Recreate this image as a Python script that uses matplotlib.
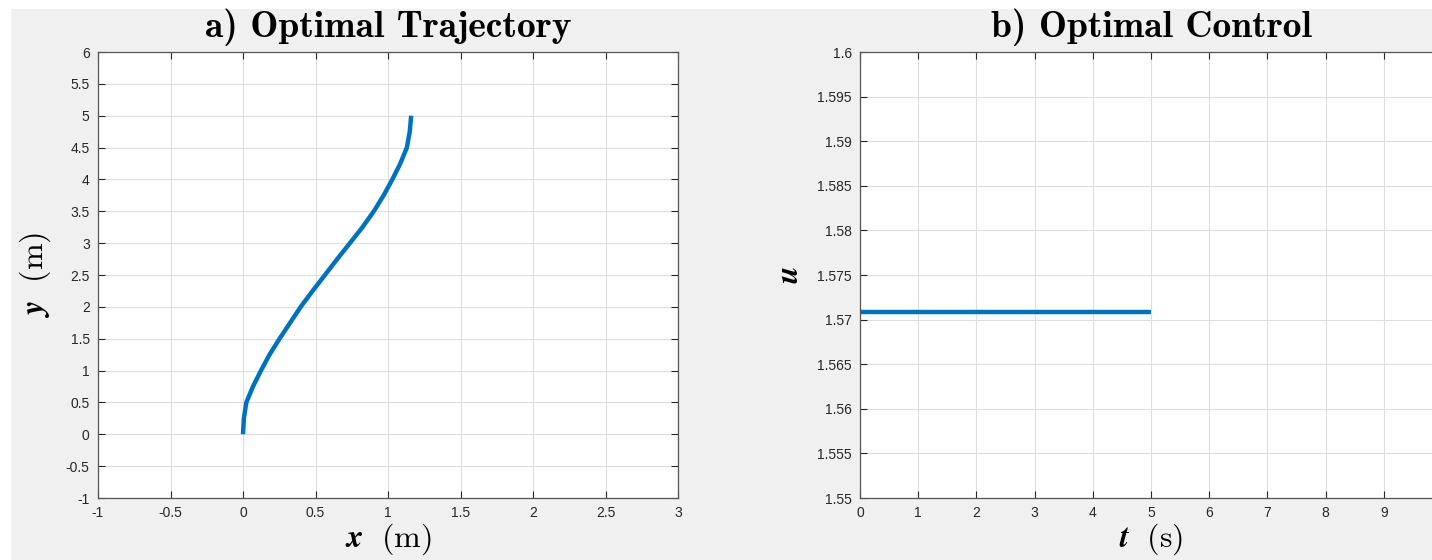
import matplotlib
matplotlib.use("Agg")
import matplotlib.pyplot as plt
import numpy as np
from matplotlib.patches import Rectangle
from matplotlib.ticker import FuncFormatter

# trajectory samples (x, y) in metres
traj_x = [0.0, 0.006, 0.023, 0.069, 0.124, 0.183, 0.252, 0.325, 0.398, 0.48, 0.565,
          0.65, 0.737, 0.824, 0.902, 0.97, 1.03, 1.085, 1.13, 1.15, 1.16]
traj_y = [0.0, 0.25, 0.5, 0.75, 1.0, 1.25, 1.5, 1.75, 2.0, 2.25, 2.5,
          2.75, 3.0, 3.25, 3.5, 3.75, 4.0, 4.25, 4.5, 4.75, 5.0]

# control input over time
ctrl_t = [0.0, 1.0, 2.0, 3.0, 4.0, 5.0]
ctrl_u = [1.5708, 1.5708, 1.5708, 1.5708, 1.5708, 1.5708]

plt.rcParams["mathtext.fontset"] = "cm"
plt.rcParams["font.family"] = "Liberation Sans"

W, H = 1432, 560
BLUE = "#0072BD"
DARK = "#262626"
fig = plt.figure(figsize=(W / 100, H / 100), dpi=100, facecolor="white")
fig.patches.append(Rectangle((11 / W, 0), 1, 1 - 9 / H, transform=fig.transFigure,
                             facecolor="#f0f0f0", edgecolor="none", zorder=-10))

fmt = FuncFormatter(lambda v, _: f"{v:g}")
TITLE = dict(fontsize=27, fontfamily="cmb10", pad=11)
LABEL = dict(fontsize=23)


def style(ax):
    ax.set_facecolor("white")
    ax.grid(True, color="#dedede", lw=0.8)
    ax.set_axisbelow(True)
    ax.tick_params(direction="in", length=5, width=0.8, top=True, right=True,
                   labelsize=10, colors=DARK, labelcolor=DARK, pad=6)
    for s in ax.spines.values():
        s.set_color("#555555")
        s.set_linewidth(0.9)
    ax.xaxis.set_major_formatter(fmt)
    ax.yaxis.set_major_formatter(fmt)


# a) trajectory
ax1 = fig.add_axes([98 / W, 62 / H, 580 / W, 446 / H])
ax1.plot(traj_x, traj_y, color=BLUE, lw=3.2, solid_capstyle="butt")
ax1.set_xlim(-1, 3)
ax1.set_ylim(-1, 6)
ax1.set_xticks(np.arange(-1, 3.01, 0.5))
ax1.set_yticks(np.arange(-1, 6.01, 0.5))
style(ax1)
ax1.set_title("a) Optimal Trajectory", **TITLE)
ax1.set_xlabel(r"$\boldsymbol{x}\ \ \mathrm{(m)}$", labelpad=1, **LABEL)
ax1.set_ylabel(r"$\boldsymbol{y}\ \ \mathrm{(m)}$", labelpad=9, **LABEL)

# b) control; axis runs to t = 10, past the right edge of the canvas
ax2 = fig.add_axes([860 / W, 62 / H, 582 / W, 446 / H])
ax2.plot(ctrl_t, ctrl_u, color=BLUE, lw=3.2, solid_capstyle="butt")
ax2.set_xlim(0, 10)
ax2.set_ylim(1.55, 1.6)
ax2.set_xticks(np.arange(0, 10))
ax2.set_yticks(np.arange(1.55, 1.6001, 0.005))
style(ax2)
ax2.set_title("b) Optimal Control", **TITLE)
ax2.set_xlabel(r"$\boldsymbol{t}\ \ \mathrm{(s)}$", labelpad=1, **LABEL)
ax2.set_ylabel(r"$\boldsymbol{u}$", labelpad=9, **LABEL)

fig.savefig("out.png", dpi=100, facecolor=fig.get_facecolor())
plt.close(fig)
